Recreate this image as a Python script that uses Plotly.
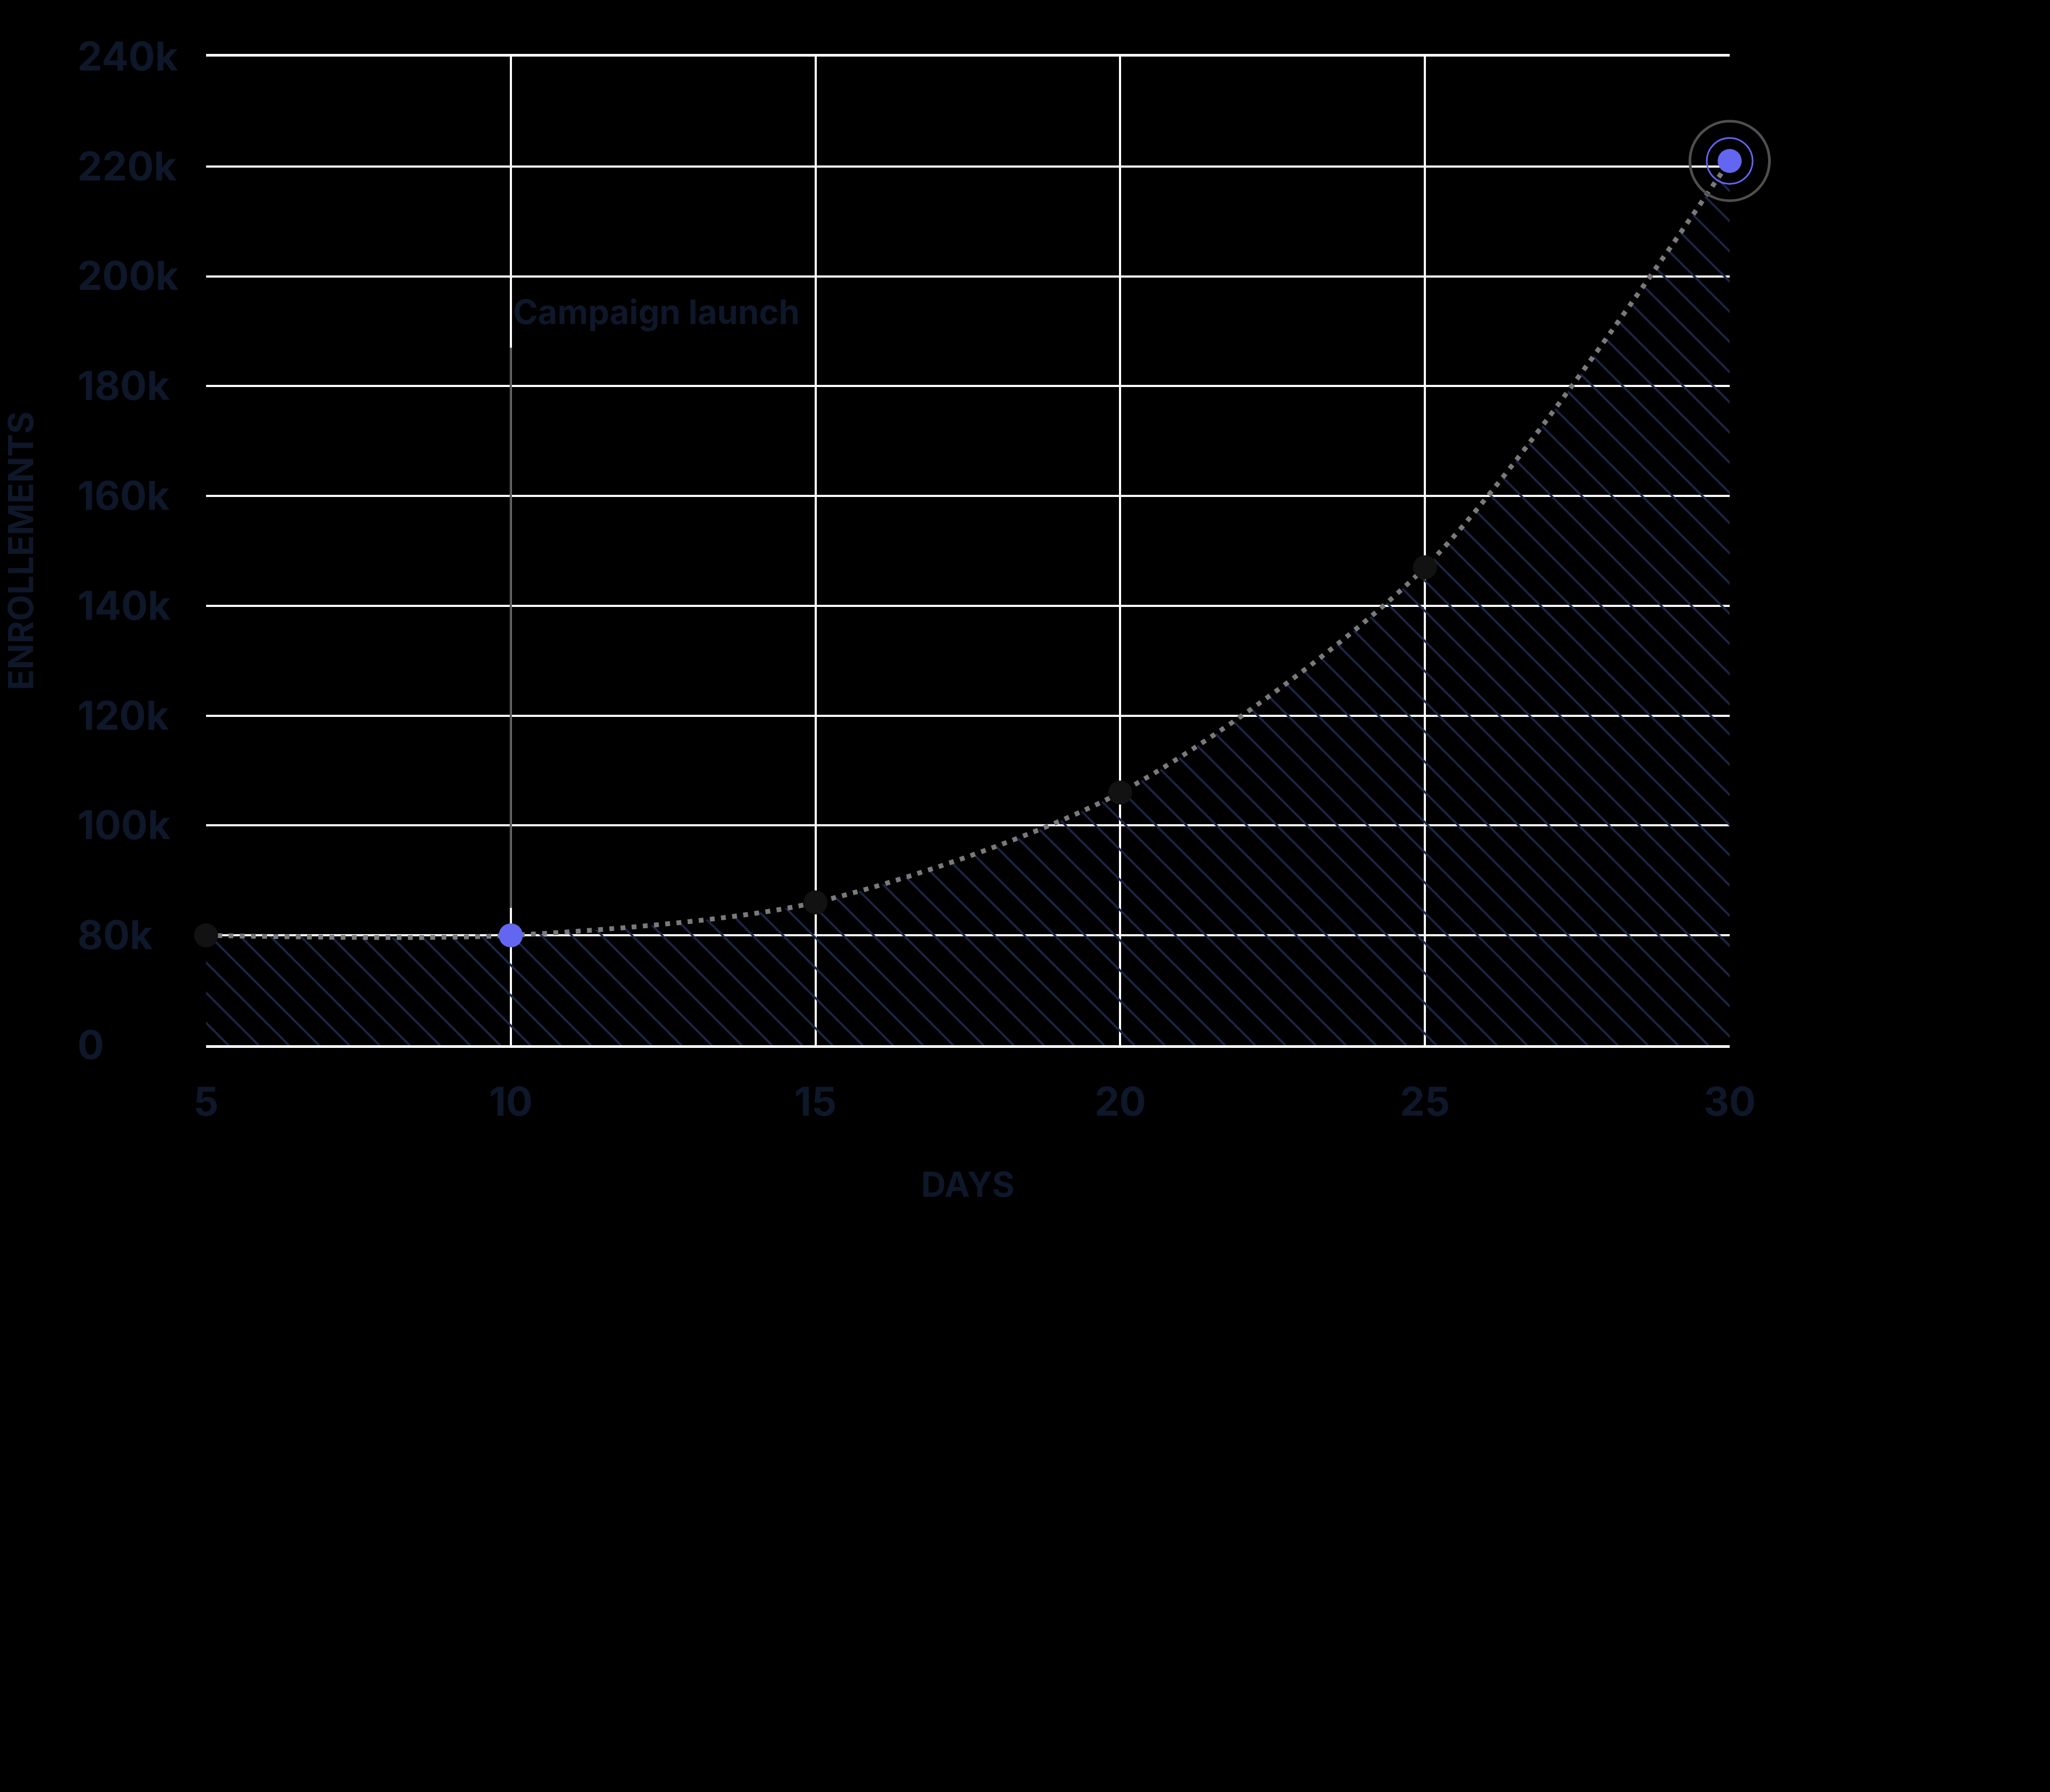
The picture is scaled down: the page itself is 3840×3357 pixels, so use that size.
import plotly.graph_objs as go

# enrollment curve
days = [5, 10, 15, 20, 25, 30]
enrollments = [80000, 80000, 86000, 106000, 147000, 221000]
highlight_days = [10, 30]

# broken y axis: "0" sits one step below 80k
y_tick_vals = [60000, 80000, 100000, 120000, 140000, 160000, 180000, 200000, 220000, 240000]
y_tick_text = ["0", "80k", "100k", "120k", "140k", "160k", "180k", "200k", "220k", "240k"]
x_tick_vals = [5, 10, 15, 20, 25, 30]

event_day = 10
event_label = "Campaign launch"
event_span = [85000, 187000]
event_label_value = 193500

TEXT = "#0f172a"
INDIGO = "#6366f1"
W, H = 3840, 3357

lookup = dict(zip(days, enrollments))
hl_y = [lookup[d] for d in highlight_days]
other_days = [d for d in days if d not in highlight_days]
other_y = [lookup[d] for d in other_days]

font_tick = dict(family="Inter", size=74, color=TEXT, weight=700)
font_title = dict(family="Inter", size=64, color=TEXT, weight=700)

fill = go.Scatter(
    x=days, y=enrollments, mode="none", fill="tozeroy",
    line=dict(shape="spline", smoothing=0.8),
    fillcolor="rgba(0,0,0,0)",
    fillpattern=dict(shape="\\", fgcolor="#1d2648", bgcolor="rgba(0,0,0,0)",
                     size=40, solidity=0.1),
    hoverinfo="skip", showlegend=False)

curve = go.Scatter(
    x=days, y=enrollments, mode="lines",
    line=dict(shape="spline", smoothing=0.8, color="#7a7a7a", width=9, dash="9px,12px"),
    showlegend=False)

event = go.Scatter(
    x=[event_day, event_day], y=event_span, mode="lines",
    line=dict(color="#5a5a5a", width=4), showlegend=False, hoverinfo="skip")

dots = go.Scatter(
    x=other_days, y=other_y, mode="markers", cliponaxis=False,
    marker=dict(size=45, color="#121212"), showlegend=False)

hl_dots = go.Scatter(
    x=highlight_days, y=hl_y, mode="markers", cliponaxis=False,
    marker=dict(size=45, color=INDIGO), showlegend=False)

# target rings on the latest value
ring_inner = go.Scatter(
    x=days[-1:], y=enrollments[-1:], mode="markers", cliponaxis=False,
    marker=dict(size=86, symbol="circle-open", color=INDIGO, line=dict(width=3, color=INDIGO)),
    showlegend=False, hoverinfo="skip")
ring_outer = go.Scatter(
    x=days[-1:], y=enrollments[-1:], mode="markers", cliponaxis=False,
    marker=dict(size=149, symbol="circle-open", color="#4f4f4f", line=dict(width=5, color="#4f4f4f")),
    showlegend=False, hoverinfo="skip")

data = [fill, event, curve, ring_outer, ring_inner, dots, hl_dots]

layout = go.Layout(
    template="none",
    width=W, height=H,
    margin=dict(l=0, r=0, t=0, b=0),
    paper_bgcolor="#000000",
    plot_bgcolor="#000000",
    font=dict(family="Inter", color=TEXT),
    xaxis=dict(
        domain=[386 / W, 3240 / W],
        range=[5, 30],
        tickvals=x_tick_vals,
        tickfont=font_tick,
        ticks="",
        ticklabelstandoff=38,
        showgrid=True, gridcolor="#ffffff", gridwidth=4,
        showline=True, linecolor="#ffffff", linewidth=5, mirror=True,
        zeroline=False, automargin=False, layer="below traces",
        title=dict(text="DAYS", font=font_title, standoff=92),
    ),
    yaxis=dict(
        domain=[1 - 1958 / H, 1 - 106 / H],
        range=[60000, 240000],
        tickvals=y_tick_vals,
        ticktext=y_tick_text,
        tickfont=font_tick,
        ticks="",
        anchor="free",
        position=141 / W,
        ticklabelposition="inside",
        ticklabeloverflow="allow",
        showgrid=True, gridcolor="#ffffff", gridwidth=4,
        showline=False,
        zeroline=False, automargin=False, layer="below traces",
        title=dict(text="ENROLLEMENTS", font=font_title, standoff=64),
    ),
    annotations=[dict(
        x=event_day, y=event_label_value, xref="x", yref="y",
        text=event_label, showarrow=False, xanchor="left", yanchor="middle",
        xshift=2, font=dict(family="Inter", size=63, color=TEXT, weight=700))],
)

fig = go.Figure(data=data, layout=layout)
fig.write_html("out.html", config={"displayModeBar": False},
               post_script="document.body.style.margin='0';document.body.style.background='#000';")
